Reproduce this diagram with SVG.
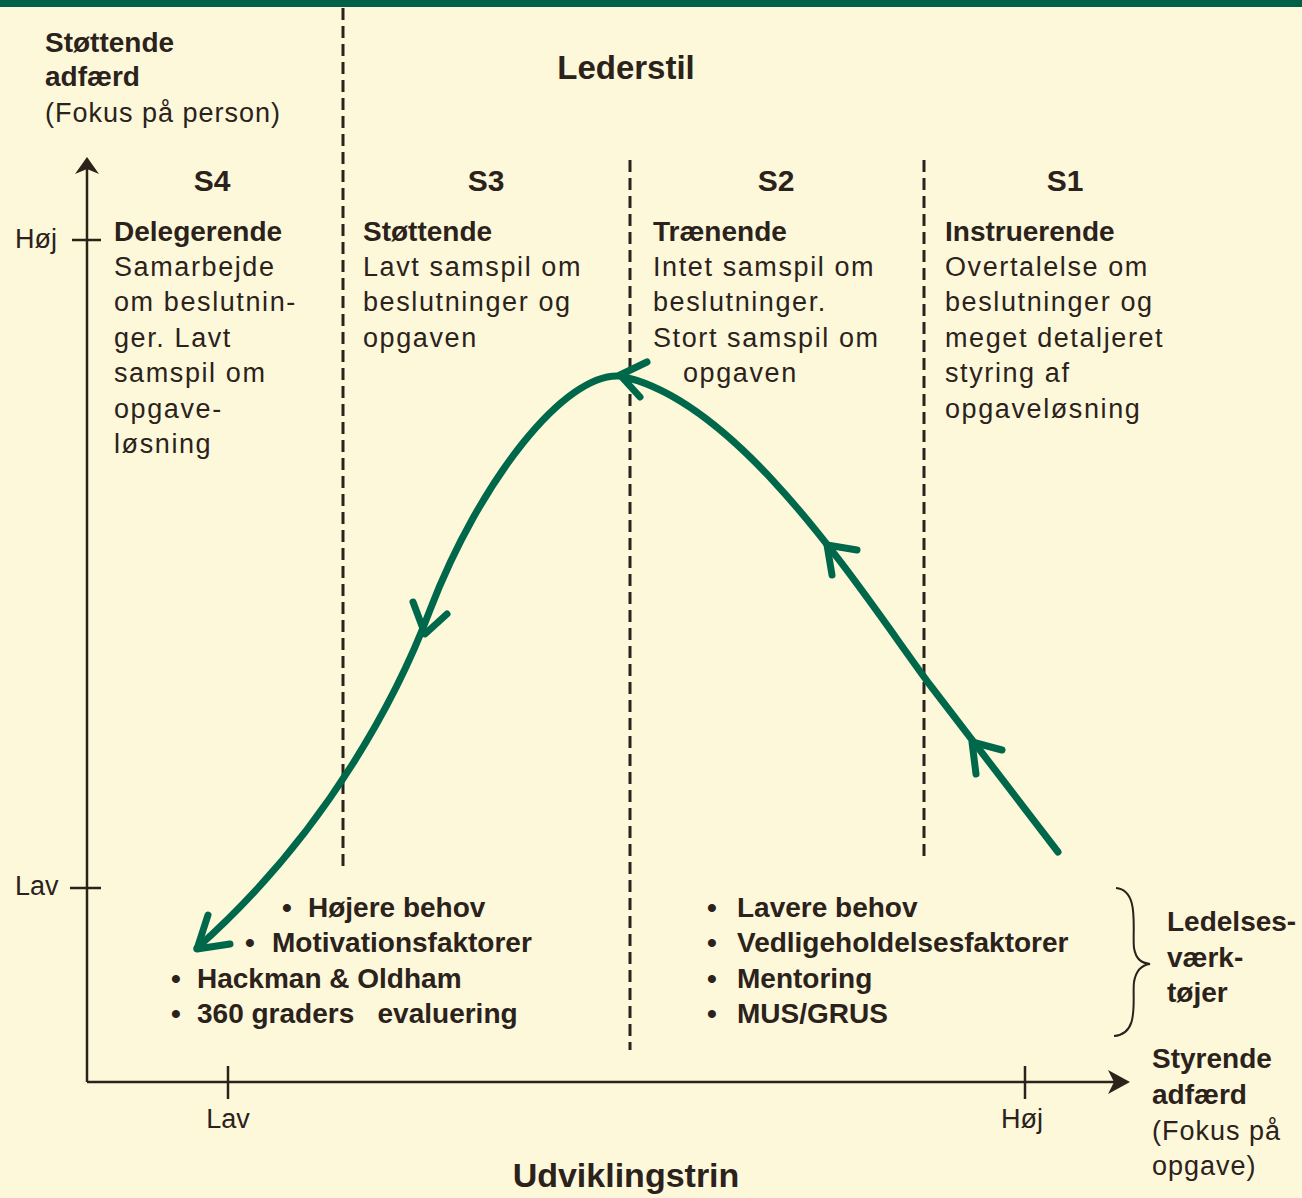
<svg xmlns="http://www.w3.org/2000/svg" width="1302" height="1198" viewBox="0 0 1302 1198">
  <style>
    text { font-family: "Liberation Sans", Arial, sans-serif; fill: #2b221c; }
    .b { font-weight: bold; font-size: 28px; }
    .r { font-size: 27px; letter-spacing: 1.6px; }
    .p { font-size: 27px; letter-spacing: 1px; }
    .h { font-weight: bold; font-size: 30px; text-anchor: middle; }
    .ax { font-size: 27px; }
    .dash { stroke: #2b221c; stroke-width: 3; stroke-dasharray: 12 6; fill: none; }
    .axis { stroke: #2b221c; stroke-width: 2.5; fill: none; }
    .curve { stroke: #00684a; stroke-width: 7; fill: none; stroke-linecap: round; stroke-linejoin: round; }
  </style>

  <!-- background and top band -->
  <rect width="1302" height="1198" fill="#fdf8da"/>
  <rect width="1302" height="7" fill="#00604a"/>

  <!-- column separators -->
  <g id="separators">
    <line class="dash" x1="343" y1="8" x2="343" y2="866"/>
    <line class="dash" x1="630" y1="160" x2="630" y2="1050"/>
    <line class="dash" x1="924" y1="160" x2="924" y2="856"/>
  </g>

  <!-- axes -->
  <g id="axes">
    <path class="axis" d="M87,1082 V166"/>
    <path class="axis" d="M87,1082 H1120"/>
    <path d="M1108,1070 L1130,1082 L1108,1094 L1114,1082 Z" fill="#2b221c"/>
    <path d="M75,174 L87,157 L99,174 L87,169 Z" fill="#2b221c"/>
    <line class="axis" x1="72" y1="240" x2="101" y2="240"/>
    <line class="axis" x1="70" y1="888" x2="101" y2="888"/>
    <line class="axis" x1="228" y1="1066" x2="228" y2="1099"/>
    <line class="axis" x1="1025" y1="1066" x2="1025" y2="1099"/>
    <text class="ax" x="15" y="248">Høj</text>
    <text class="ax" x="15" y="895">Lav</text>
    <text class="ax" x="228" y="1128" text-anchor="middle">Lav</text>
    <text class="ax" x="1022" y="1128" text-anchor="middle">Høj</text>
  </g>

  <!-- axis titles -->
  <g id="title-y">
    <text class="b" x="45" y="52">Støttende</text>
    <text class="b" x="45" y="86">adfærd</text>
    <text class="p" x="45" y="122">(Fokus på person)</text>
  </g>
  <g id="title-top">
    <text x="626" y="79" text-anchor="middle" style="font-weight:bold;font-size:33px">Lederstil</text>
  </g>
  <g id="title-x">
    <text x="626" y="1187" text-anchor="middle" style="font-weight:bold;font-size:34px">Udviklingstrin</text>
  </g>

  <!-- S4 -->
  <g id="s4">
    <text class="h" x="212" y="191">S4</text>
    <text class="b" x="114" y="241">Delegerende</text>
    <text class="r" x="114" y="276">Samarbejde</text>
    <text class="r" x="114" y="311">om beslutnin-</text>
    <text class="r" x="114" y="347">ger. Lavt</text>
    <text class="r" x="114" y="382">samspil om</text>
    <text class="r" x="114" y="418">opgave-</text>
    <text class="r" x="114" y="453">løsning</text>
  </g>

  <!-- S3 -->
  <g id="s3">
    <text class="h" x="486" y="191">S3</text>
    <text class="b" x="363" y="241">Støttende</text>
    <text class="r" x="363" y="276">Lavt samspil om</text>
    <text class="r" x="363" y="311">beslutninger og</text>
    <text class="r" x="363" y="347">opgaven</text>
  </g>

  <!-- S2 -->
  <g id="s2">
    <text class="h" x="776" y="191">S2</text>
    <text class="b" x="653" y="241">Trænende</text>
    <text class="r" x="653" y="276">Intet samspil om</text>
    <text class="r" x="653" y="311">beslutninger.</text>
    <text class="r" x="653" y="347">Stort samspil om</text>
    <text class="r" x="683" y="382">opgaven</text>
  </g>

  <!-- S1 -->
  <g id="s1">
    <text class="h" x="1065" y="191">S1</text>
    <text class="b" x="945" y="241">Instruerende</text>
    <text class="r" x="945" y="276">Overtalelse om</text>
    <text class="r" x="945" y="311">beslutninger og</text>
    <text class="r" x="945" y="347">meget detaljeret</text>
    <text class="r" x="945" y="382">styring af</text>
    <text class="r" x="945" y="418">opgaveløsning</text>
  </g>

  <!-- leadership tools, left -->
  <g id="tools-left">
    <text class="b" x="282" y="917"><tspan>•</tspan><tspan x="308">Højere behov</tspan></text>
    <text class="b" x="245" y="952"><tspan>•</tspan><tspan x="272">Motivationsfaktorer</tspan></text>
    <text class="b" x="171" y="988"><tspan>•</tspan><tspan x="197">Hackman &amp; Oldham</tspan></text>
    <text class="b" x="171" y="1023" xml:space="preserve"><tspan>•</tspan><tspan x="197">360 graders   evaluering</tspan></text>
  </g>

  <!-- leadership tools, right -->
  <g id="tools-right">
    <text class="b" x="707" y="917"><tspan>•</tspan><tspan x="737">Lavere behov</tspan></text>
    <text class="b" x="707" y="952"><tspan>•</tspan><tspan x="737">Vedligeholdelsesfaktorer</tspan></text>
    <text class="b" x="707" y="988"><tspan>•</tspan><tspan x="737">Mentoring</tspan></text>
    <text class="b" x="707" y="1023"><tspan>•</tspan><tspan x="737">MUS/GRUS</tspan></text>
  </g>

  <!-- brace and its label -->
  <g id="tools-label">
    <path d="M1116,888 C1140,890 1132,930 1134,948 C1136,960 1142,963 1150,964 C1142,965 1136,970 1134,982 C1132,1000 1140,1034 1114,1036" fill="none" stroke="#2b221c" stroke-width="2"/>
    <text class="b" x="1167" y="931">Ledelses-</text>
    <text class="b" x="1167" y="967">værk-</text>
    <text class="b" x="1167" y="1002">tøjer</text>
  </g>

  <!-- x axis title -->
  <g id="title-x-right">
    <text class="b" x="1152" y="1068">Styrende</text>
    <text class="b" x="1152" y="1104">adfærd</text>
    <text class="p" x="1152" y="1140">(Fokus på</text>
    <text class="p" x="1152" y="1175">opgave)</text>
  </g>

  <!-- development curve -->
  <g id="connectors">
    <path class="curve" d="M1058,852 L930,685 C860,590 740,400 620,376 C565,372 480,480 430,610 C400,690 330,830 197,948"/>
    <polyline class="curve" points="1002,750 972,742 976,774"/>
    <polyline class="curve" points="857,550 827,545 832,575"/>
    <polyline class="curve" points="647,362 620,375 640,397"/>
    <polyline class="curve" points="413,602 425,634 447,614"/>
    <polyline class="curve" points="208,915 197,949 230,944"/>
  </g>
</svg>
